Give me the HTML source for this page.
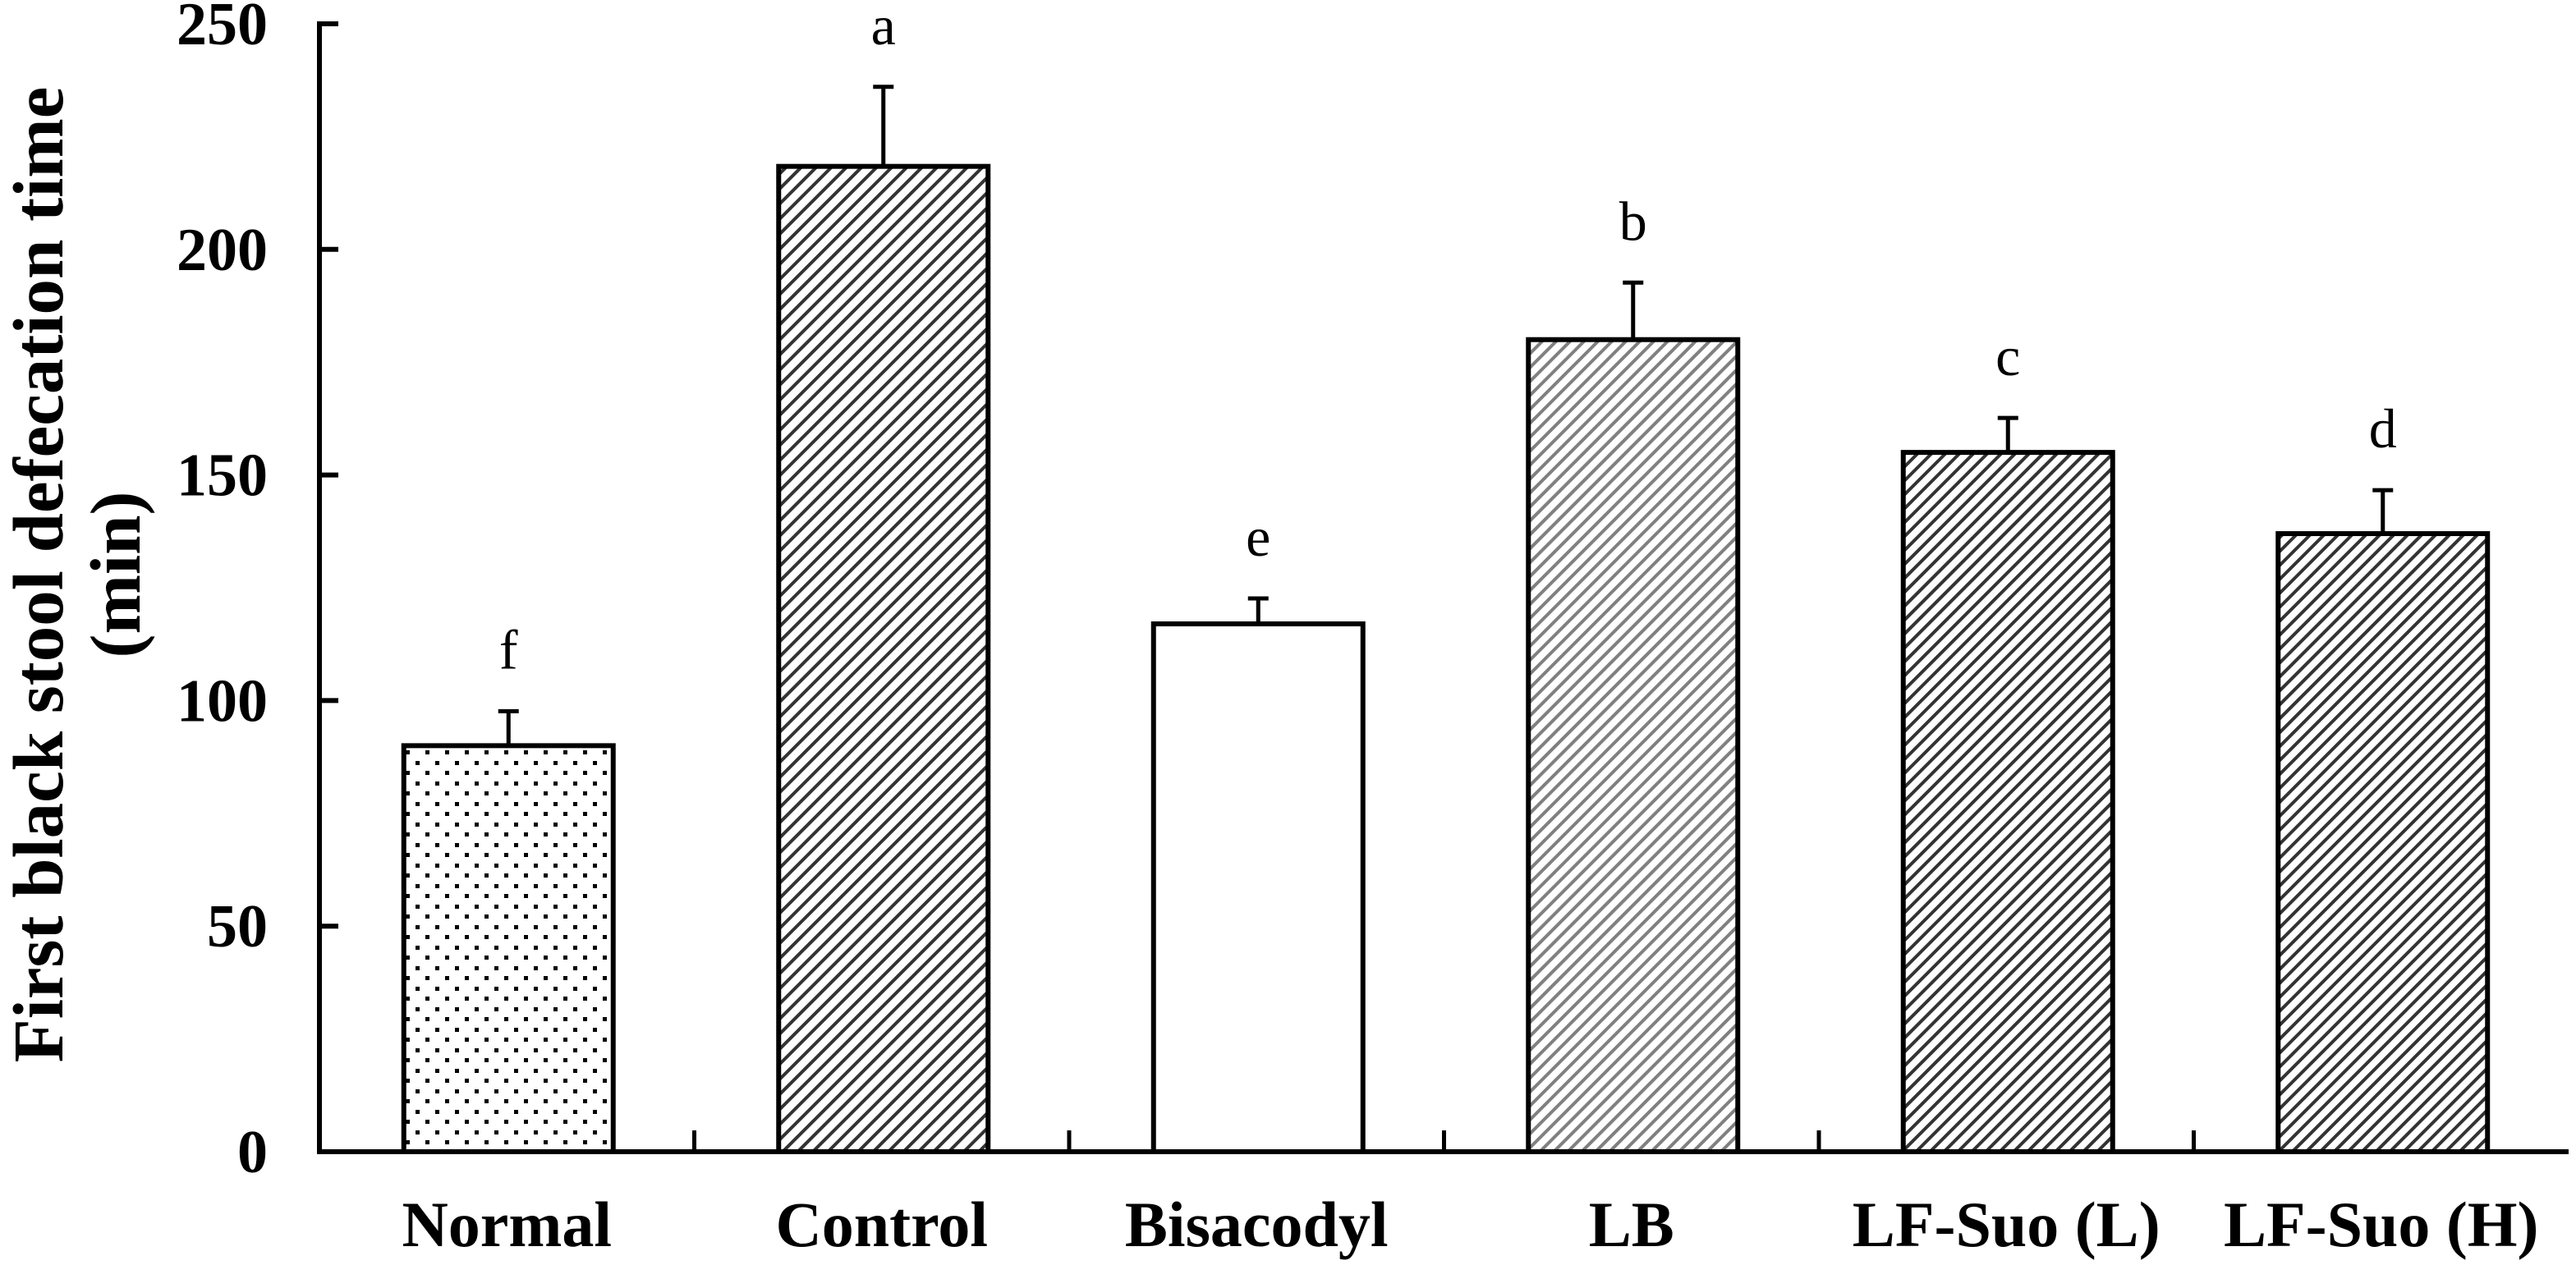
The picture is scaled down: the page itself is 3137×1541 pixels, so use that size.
<!DOCTYPE html>
<html><head><meta charset="utf-8"><style>
html,body{margin:0;padding:0;background:#fff;}
svg{display:block;}
text{font-family:"Liberation Serif",serif;}
</style></head><body>
<svg id="chart" width="3137" height="1541" viewBox="0 0 3137 1541" xmlns="http://www.w3.org/2000/svg">
<defs>
<pattern id="dots" width="24" height="25" patternUnits="userSpaceOnUse">
<rect x="2" y="2" width="5" height="5" fill="#000"/><rect x="14" y="14" width="5" height="5" fill="#000"/>
</pattern>
<pattern id="hatchDark" width="13" height="13" patternUnits="userSpaceOnUse" patternTransform="rotate(45)">
<rect x="0" y="0" width="4" height="13" fill="#333"/>
</pattern>
<pattern id="hatchGray" width="12" height="12" patternUnits="userSpaceOnUse" patternTransform="rotate(45)">
<rect x="0" y="0" width="4" height="12" fill="#808080"/>
</pattern>
<pattern id="hatchDark2" width="12" height="12" patternUnits="userSpaceOnUse" patternTransform="rotate(45)">
<rect x="0" y="0" width="4" height="12" fill="#333"/>
</pattern>
</defs>
<g id="plot"></g>
</svg>
<script>
const categories = ["Normal","Control","Bisacodyl","LB","LF-Suo (L)","LF-Suo (H)"];
const values = [90, 218.4, 117, 180, 155, 137];
const errors = [8, 18, 6, 13, 8, 10];
const sigLetters = ["f","a","e","b","c","d"];
const yTicks = [0,50,100,150,200,250];
const fills = ["url(#dots)","url(#hatchDark)","#fff","url(#hatchGray)","url(#hatchDark2)","url(#hatchDark2)"];

const NS="http://www.w3.org/2000/svg";
const g=document.getElementById('plot');
const X0=389, X1=3128, Y0=1403, Y250=29;
const band=(X1-X0)/categories.length;
const barW=255;
function y(v){return Y0-(v/250)*(Y0-Y250);}
function xc(i){return X0+band*(i+0.5)+2;}
function mk(tag,attrs,parent){const e=document.createElementNS(NS,tag);for(const k in attrs)e.setAttribute(k,attrs[k]);(parent||g).appendChild(e);return e;}

categories.forEach((c,i)=>{
  const v=values[i];
  const r=mk('rect',{x:xc(i)-barW/2,y:y(v),width:barW,height:Y0-y(v),fill:fills[i],stroke:'#000','stroke-width':6});
  
  
  const top=y(v+errors[i]);
  const el=mk('line',{x1:xc(i),x2:xc(i),y1:y(v),y2:top,stroke:'#000','stroke-width':5});
  
  
  const cap=mk('line',{x1:xc(i)-12.5,x2:xc(i)+12.5,y1:top+2,y2:top+2,stroke:'#000','stroke-width':5});
  
  
  const t=mk('text',{x:xc(i),y:top-50,'text-anchor':'middle','font-size':68});
  t.textContent=sigLetters[i];
  
  
  const lab=mk('text',{x:X0+band*(i+0.5),y:1518,'text-anchor':'middle','font-size':78,'font-weight':'bold'});
  lab.textContent=c;
  
  
});
const ya=mk('line',{x1:X0,x2:X0,y1:Y250-3,y2:Y0+3,stroke:'#000','stroke-width':6});


const xa=mk('line',{x1:X0-3,x2:X1,y1:Y0,y2:Y0,stroke:'#000','stroke-width':6});


for(let i=1;i<categories.length;i++){
  const tk=mk('line',{x1:X0+band*i,x2:X0+band*i,y1:Y0-26,y2:Y0,stroke:'#000','stroke-width':5});
  
  
}
yTicks.forEach(v=>{
  const tk=mk('line',{x1:X0,x2:X0+23,y1:y(v),y2:y(v),stroke:'#000','stroke-width':6});
  
  
  const t=mk('text',{x:326,y:y(v)+25,'text-anchor':'end','font-size':74,'font-weight':'bold'});
  t.textContent=v;
  
  
});
const t1=mk('text',{x:0,y:0,'text-anchor':'middle','font-size':87,'font-weight':'bold',transform:'translate(76,700) rotate(-90)'});
t1.textContent='First black stool defecation time';


const t2=mk('text',{x:0,y:0,'text-anchor':'middle','font-size':87,'font-weight':'bold',transform:'translate(170,700) rotate(-90)'});
t2.textContent='(min)';


</script>
</body></html>
